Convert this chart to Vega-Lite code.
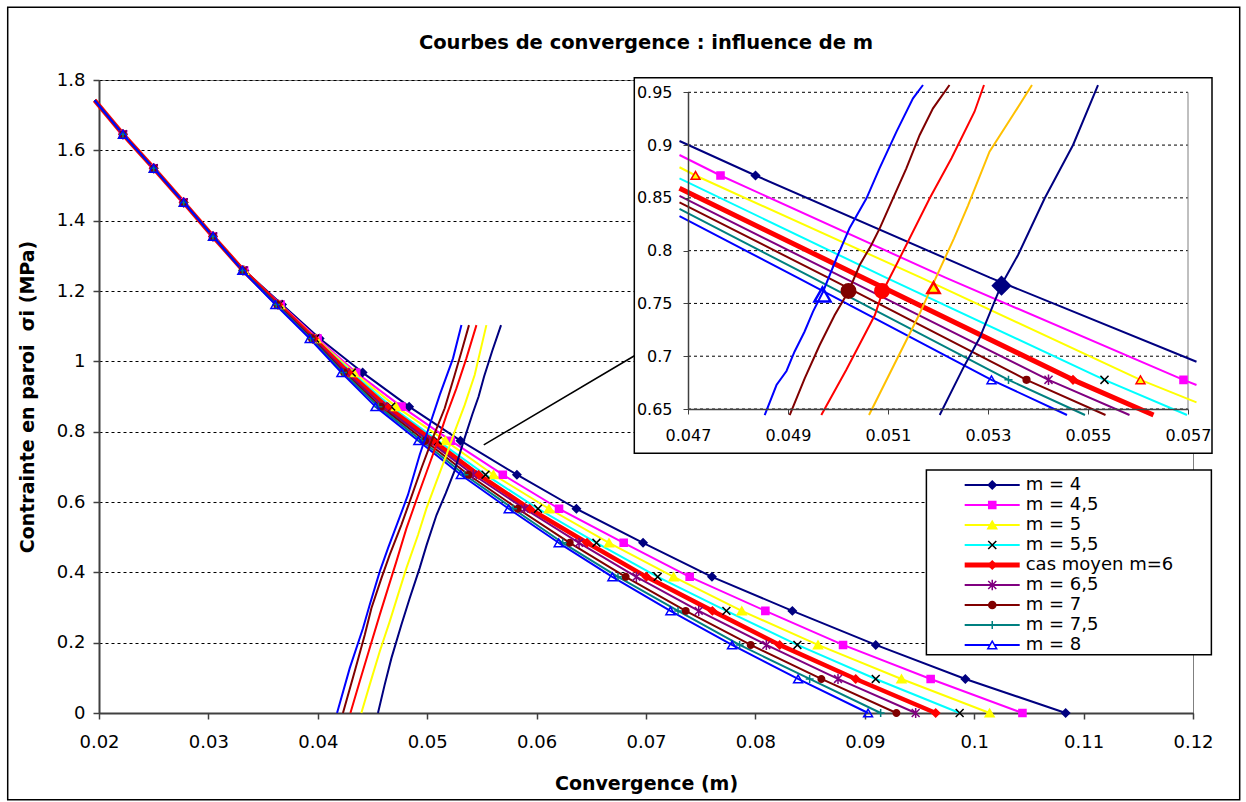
{
  "$schema": "https://vega.github.io/schema/vega-lite/v6.json",
  "width": 1094,
  "height": 633,
  "autosize": {"type": "none"},
  "padding": {"left": 99, "top": 80, "right": 53, "bottom": 89},
  "background": "white",
  "config": {"view": {"stroke": "#808080", "strokeWidth": 1}, "font": "DejaVu Sans"},
  "title": {"text": "Courbes de convergence : influence de m", "font": "DejaVu Sans", "fontSize": 19.5, "fontWeight": "bold", "color": "#000000", "anchor": "middle", "offset": -62, "baseline": "alphabetic"},
  "datasets": {
    "conv": [
      {"s":"m = 4","x":0.10836,"y":0},{"s":"m = 4","x":0.09919,"y":0.0968},{"s":"m = 4","x":0.0910,"y":0.1936},{"s":"m = 4","x":0.08338,"y":0.2904},{"s":"m = 4","x":0.07603,"y":0.3872},{"s":"m = 4","x":0.06973,"y":0.484},{"s":"m = 4","x":0.06364,"y":0.5808},{"s":"m = 4","x":0.0582,"y":0.6776},{"s":"m = 4","x":0.05304,"y":0.7744},{"s":"m = 4","x":0.04835,"y":0.8712},{"s":"m = 4","x":0.0441,"y":0.968},{"s":"m = 4","x":0.04017,"y":1.0648},{"s":"m = 4","x":0.03673,"y":1.1616},{"s":"m = 4","x":0.0333,"y":1.2584},{"s":"m = 4","x":0.03042,"y":1.3552},{"s":"m = 4","x":0.02774,"y":1.452},{"s":"m = 4","x":0.025,"y":1.5488},{"s":"m = 4","x":0.02219,"y":1.6456},{"s":"m = 4","x":0.0196,"y":1.7424},
      {"s":"m = 4,5","x":0.10441,"y":0},{"s":"m = 4,5","x":0.09602,"y":0.0968},{"s":"m = 4,5","x":0.08801,"y":0.1936},{"s":"m = 4,5","x":0.08091,"y":0.2904},{"s":"m = 4,5","x":0.07399,"y":0.3872},{"s":"m = 4,5","x":0.06796,"y":0.484},{"s":"m = 4,5","x":0.06205,"y":0.5808},{"s":"m = 4,5","x":0.05691,"y":0.6776},{"s":"m = 4,5","x":0.05215,"y":0.7744},{"s":"m = 4,5","x":0.04765,"y":0.8712},{"s":"m = 4,5","x":0.0435,"y":0.968},{"s":"m = 4,5","x":0.03998,"y":1.0648},{"s":"m = 4,5","x":0.0366,"y":1.1616},{"s":"m = 4,5","x":0.03327,"y":1.2584},{"s":"m = 4,5","x":0.03042,"y":1.3552},{"s":"m = 4,5","x":0.02774,"y":1.452},{"s":"m = 4,5","x":0.025,"y":1.5488},{"s":"m = 4,5","x":0.02219,"y":1.6456},{"s":"m = 4,5","x":0.0196,"y":1.7424},
      {"s":"m = 5","x":0.10141,"y":0},{"s":"m = 5","x":0.09335,"y":0.0968},{"s":"m = 5","x":0.08572,"y":0.1936},{"s":"m = 5","x":0.07875,"y":0.2904},{"s":"m = 5","x":0.07253,"y":0.3872},{"s":"m = 5","x":0.06662,"y":0.484},{"s":"m = 5","x":0.06113,"y":0.5808},{"s":"m = 5","x":0.05605,"y":0.6776},{"s":"m = 5","x":0.05166,"y":0.7744},{"s":"m = 5","x":0.04715,"y":0.8712},{"s":"m = 5","x":0.0433,"y":0.968},{"s":"m = 5","x":0.03985,"y":1.0648},{"s":"m = 5","x":0.03653,"y":1.1616},{"s":"m = 5","x":0.03324,"y":1.2584},{"s":"m = 5","x":0.03042,"y":1.3552},{"s":"m = 5","x":0.02774,"y":1.452},{"s":"m = 5","x":0.025,"y":1.5488},{"s":"m = 5","x":0.02219,"y":1.6456},{"s":"m = 5","x":0.0196,"y":1.7424},
      {"s":"m = 5,5","x":0.09867,"y":0},{"s":"m = 5,5","x":0.0910,"y":0.0968},{"s":"m = 5,5","x":0.08384,"y":0.1936},{"s":"m = 5,5","x":0.07735,"y":0.2904},{"s":"m = 5,5","x":0.07107,"y":0.3872},{"s":"m = 5,5","x":0.06547,"y":0.484},{"s":"m = 5,5","x":0.06013,"y":0.5808},{"s":"m = 5,5","x":0.05533,"y":0.6776},{"s":"m = 5,5","x":0.05096,"y":0.7744},{"s":"m = 5,5","x":0.04671,"y":0.8712},{"s":"m = 5,5","x":0.0431,"y":0.968},{"s":"m = 5,5","x":0.03975,"y":1.0648},{"s":"m = 5,5","x":0.03647,"y":1.1616},{"s":"m = 5,5","x":0.03321,"y":1.2584},{"s":"m = 5,5","x":0.03042,"y":1.3552},{"s":"m = 5,5","x":0.02774,"y":1.452},{"s":"m = 5,5","x":0.025,"y":1.5488},{"s":"m = 5,5","x":0.02219,"y":1.6456},{"s":"m = 5,5","x":0.0196,"y":1.7424},
      {"s":"cas moyen m=6","x":0.09648,"y":0},{"s":"cas moyen m=6","x":0.08917,"y":0.0968},{"s":"cas moyen m=6","x":0.08222,"y":0.1936},{"s":"cas moyen m=6","x":0.07607,"y":0.2904},{"s":"cas moyen m=6","x":0.07004,"y":0.3872},{"s":"cas moyen m=6","x":0.06461,"y":0.484},{"s":"cas moyen m=6","x":0.05937,"y":0.5808},{"s":"cas moyen m=6","x":0.0547,"y":0.6776},{"s":"cas moyen m=6","x":0.0505,"y":0.7744},{"s":"cas moyen m=6","x":0.04631,"y":0.8712},{"s":"cas moyen m=6","x":0.0428,"y":0.968},{"s":"cas moyen m=6","x":0.03965,"y":1.0648},{"s":"cas moyen m=6","x":0.0364,"y":1.1616},{"s":"cas moyen m=6","x":0.03318,"y":1.2584},{"s":"cas moyen m=6","x":0.03042,"y":1.3552},{"s":"cas moyen m=6","x":0.02774,"y":1.452},{"s":"cas moyen m=6","x":0.025,"y":1.5488},{"s":"cas moyen m=6","x":0.02219,"y":1.6456},{"s":"cas moyen m=6","x":0.0196,"y":1.7424},
      {"s":"m = 6,5","x":0.09465,"y":0},{"s":"m = 6,5","x":0.08755,"y":0.0968},{"s":"m = 6,5","x":0.081,"y":0.1936},{"s":"m = 6,5","x":0.07482,"y":0.2904},{"s":"m = 6,5","x":0.06912,"y":0.3872},{"s":"m = 6,5","x":0.06388,"y":0.484},{"s":"m = 6,5","x":0.0589,"y":0.5808},{"s":"m = 6,5","x":0.05421,"y":0.6776},{"s":"m = 6,5","x":0.05011,"y":0.7744},{"s":"m = 6,5","x":0.04601,"y":0.8712},{"s":"m = 6,5","x":0.0426,"y":0.968},{"s":"m = 6,5","x":0.03955,"y":1.0648},{"s":"m = 6,5","x":0.03634,"y":1.1616},{"s":"m = 6,5","x":0.03315,"y":1.2584},{"s":"m = 6,5","x":0.03042,"y":1.3552},{"s":"m = 6,5","x":0.02774,"y":1.452},{"s":"m = 6,5","x":0.025,"y":1.5488},{"s":"m = 6,5","x":0.02219,"y":1.6456},{"s":"m = 6,5","x":0.0196,"y":1.7424},
      {"s":"m = 7","x":0.09289,"y":0},{"s":"m = 7","x":0.08603,"y":0.0968},{"s":"m = 7","x":0.07957,"y":0.1936},{"s":"m = 7","x":0.07363,"y":0.2904},{"s":"m = 7","x":0.06814,"y":0.3872},{"s":"m = 7","x":0.06303,"y":0.484},{"s":"m = 7","x":0.05828,"y":0.5808},{"s":"m = 7","x":0.05377,"y":0.6776},{"s":"m = 7","x":0.0498,"y":0.7744},{"s":"m = 7","x":0.04577,"y":0.8712},{"s":"m = 7","x":0.0424,"y":0.968},{"s":"m = 7","x":0.03945,"y":1.0648},{"s":"m = 7","x":0.03627,"y":1.1616},{"s":"m = 7","x":0.03313,"y":1.2584},{"s":"m = 7","x":0.03042,"y":1.3552},{"s":"m = 7","x":0.02774,"y":1.452},{"s":"m = 7","x":0.025,"y":1.5488},{"s":"m = 7","x":0.02219,"y":1.6456},{"s":"m = 7","x":0.0196,"y":1.7424},
      {"s":"m = 7,5","x":0.09145,"y":0},{"s":"m = 7,5","x":0.08496,"y":0.0968},{"s":"m = 7,5","x":0.07856,"y":0.1936},{"s":"m = 7,5","x":0.07293,"y":0.2904},{"s":"m = 7,5","x":0.06744,"y":0.3872},{"s":"m = 7,5","x":0.06239,"y":0.484},{"s":"m = 7,5","x":0.05785,"y":0.5808},{"s":"m = 7,5","x":0.05341,"y":0.6776},{"s":"m = 7,5","x":0.04949,"y":0.7744},{"s":"m = 7,5","x":0.04554,"y":0.8712},{"s":"m = 7,5","x":0.0423,"y":0.968},{"s":"m = 7,5","x":0.03935,"y":1.0648},{"s":"m = 7,5","x":0.0362,"y":1.1616},{"s":"m = 7,5","x":0.03311,"y":1.2584},{"s":"m = 7,5","x":0.03042,"y":1.3552},{"s":"m = 7,5","x":0.02774,"y":1.452},{"s":"m = 7,5","x":0.025,"y":1.5488},{"s":"m = 7,5","x":0.02219,"y":1.6456},{"s":"m = 7,5","x":0.0196,"y":1.7424},
      {"s":"m = 8","x":0.0903,"y":0},{"s":"m = 8","x":0.0839,"y":0.0968},{"s":"m = 8","x":0.07786,"y":0.1936},{"s":"m = 8","x":0.07223,"y":0.2904},{"s":"m = 8","x":0.06693,"y":0.3872},{"s":"m = 8","x":0.06202,"y":0.484},{"s":"m = 8","x":0.05745,"y":0.5808},{"s":"m = 8","x":0.05307,"y":0.6776},{"s":"m = 8","x":0.04919,"y":0.7744},{"s":"m = 8","x":0.04527,"y":0.8712},{"s":"m = 8","x":0.04216,"y":0.968},{"s":"m = 8","x":0.03926,"y":1.0648},{"s":"m = 8","x":0.03612,"y":1.1616},{"s":"m = 8","x":0.0331,"y":1.2584},{"s":"m = 8","x":0.03042,"y":1.3552},{"s":"m = 8","x":0.02774,"y":1.452},{"s":"m = 8","x":0.025,"y":1.5488},{"s":"m = 8","x":0.02219,"y":1.6456},{"s":"m = 8","x":0.0196,"y":1.7424}
    ],
    "conf": [
      {"s":"m = 8","x":0.04176,"y":0},{"s":"m = 8","x":0.04292,"y":0.1276},{"s":"m = 8","x":0.04413,"y":0.241},{"s":"m = 8","x":0.04474,"y":0.307},{"s":"m = 8","x":0.04566,"y":0.402},{"s":"m = 8","x":0.04642,"y":0.4686},{"s":"m = 8","x":0.04733,"y":0.544},{"s":"m = 8","x":0.04824,"y":0.62},{"s":"m = 8","x":0.04931,"y":0.7337},{"s":"m = 8","x":0.05023,"y":0.819},{"s":"m = 8","x":0.05114,"y":0.904},{"s":"m = 8","x":0.05236,"y":1.0085},{"s":"m = 8","x":0.05313,"y":1.103},
      {"s":"m = 7","x":0.0423,"y":0},{"s":"m = 7","x":0.04337,"y":0.118},{"s":"m = 7","x":0.04429,"y":0.222},{"s":"m = 7","x":0.0449,"y":0.298},{"s":"m = 7","x":0.04581,"y":0.383},{"s":"m = 7","x":0.04657,"y":0.4496},{"s":"m = 7","x":0.04764,"y":0.535},{"s":"m = 7","x":0.0484,"y":0.601},{"s":"m = 7","x":0.04947,"y":0.696},{"s":"m = 7","x":0.05038,"y":0.7715},{"s":"m = 7","x":0.0516,"y":0.8665},{"s":"m = 7","x":0.05251,"y":0.961},{"s":"m = 7","x":0.05313,"y":1.027},{"s":"m = 7","x":0.05382,"y":1.103},
      {"s":"cas moyen m=6","x":0.04298,"y":0},{"s":"cas moyen m=6","x":0.04383,"y":0.0896},{"s":"cas moyen m=6","x":0.04474,"y":0.184},{"s":"cas moyen m=6","x":0.04566,"y":0.279},{"s":"cas moyen m=6","x":0.04642,"y":0.355},{"s":"cas moyen m=6","x":0.04718,"y":0.4305},{"s":"cas moyen m=6","x":0.0481,"y":0.525},{"s":"cas moyen m=6","x":0.04896,"y":0.601},{"s":"cas moyen m=6","x":0.04995,"y":0.686},{"s":"cas moyen m=6","x":0.05095,"y":0.7715},{"s":"cas moyen m=6","x":0.05176,"y":0.847},{"s":"cas moyen m=6","x":0.05267,"y":0.923},{"s":"cas moyen m=6","x":0.05358,"y":1.0085},{"s":"cas moyen m=6","x":0.0545,"y":1.103},
      {"s":"m = 5","x":0.04398,"y":0},{"s":"m = 5","x":0.04474,"y":0.08},{"s":"m = 5","x":0.04566,"y":0.175},{"s":"m = 5","x":0.04657,"y":0.26},{"s":"m = 5","x":0.04733,"y":0.336},{"s":"m = 5","x":0.0481,"y":0.412},{"s":"m = 5","x":0.04916,"y":0.506},{"s":"m = 5","x":0.04993,"y":0.582},{"s":"m = 5","x":0.05084,"y":0.658},{"s":"m = 5","x":0.05176,"y":0.734},{"s":"m = 5","x":0.05251,"y":0.8},{"s":"m = 5","x":0.05343,"y":0.876},{"s":"m = 5","x":0.05434,"y":0.961},{"s":"m = 5","x":0.05541,"y":1.103},
      {"s":"m = 4","x":0.0455,"y":0},{"s":"m = 4","x":0.04611,"y":0.08},{"s":"m = 4","x":0.04673,"y":0.156},{"s":"m = 4","x":0.04764,"y":0.251},{"s":"m = 4","x":0.0484,"y":0.3265},{"s":"m = 4","x":0.04931,"y":0.412},{"s":"m = 4","x":0.04995,"y":0.478},{"s":"m = 4","x":0.05085,"y":0.563},{"s":"m = 4","x":0.0517,"y":0.625},{"s":"m = 4","x":0.0525,"y":0.6885},{"s":"m = 4","x":0.05327,"y":0.7675},{"s":"m = 4","x":0.05413,"y":0.8496},{"s":"m = 4","x":0.0547,"y":0.9001},{"s":"m = 4","x":0.0552,"y":0.9569},{"s":"m = 4","x":0.05595,"y":1.03},{"s":"m = 4","x":0.05675,"y":1.103}
    ],
    "iconv": [
      {"s":"m = 4","x":0.04683,"y":0.9039},{"s":"m = 4","x":0.04835,"y":0.8712},{"s":"m = 4","x":0.05304,"y":0.7744},{"s":"m = 4","x":0.05717,"y":0.6948},
      {"s":"m = 4,5","x":0.04683,"y":0.8906},{"s":"m = 4,5","x":0.04765,"y":0.8712},{"s":"m = 4,5","x":0.05215,"y":0.7744},{"s":"m = 4,5","x":0.05691,"y":0.6776},{"s":"m = 4,5","x":0.05717,"y":0.6727},
      {"s":"m = 5","x":0.04683,"y":0.879},{"s":"m = 5","x":0.04715,"y":0.8712},{"s":"m = 5","x":0.05166,"y":0.7744},{"s":"m = 5","x":0.05605,"y":0.6776},{"s":"m = 5","x":0.05717,"y":0.6563},
      {"s":"m = 5,5","x":0.04683,"y":0.8685},{"s":"m = 5,5","x":0.05096,"y":0.7744},{"s":"m = 5,5","x":0.05533,"y":0.6776},{"s":"m = 5,5","x":0.05698,"y":0.6443},
      {"s":"cas moyen m=6","x":0.04683,"y":0.8591},{"s":"cas moyen m=6","x":0.0505,"y":0.7744},{"s":"cas moyen m=6","x":0.0547,"y":0.6776},{"s":"cas moyen m=6","x":0.05631,"y":0.6443},
      {"s":"m = 6,5","x":0.04683,"y":0.8518},{"s":"m = 6,5","x":0.05011,"y":0.7744},{"s":"m = 6,5","x":0.05421,"y":0.6776},{"s":"m = 6,5","x":0.05583,"y":0.6443},
      {"s":"m = 7","x":0.04683,"y":0.8458},{"s":"m = 7","x":0.0498,"y":0.7744},{"s":"m = 7","x":0.05377,"y":0.6776},{"s":"m = 7","x":0.05535,"y":0.6443},
      {"s":"m = 7,5","x":0.04683,"y":0.8395},{"s":"m = 7,5","x":0.04949,"y":0.7744},{"s":"m = 7,5","x":0.05341,"y":0.6776},{"s":"m = 7,5","x":0.05494,"y":0.6443},
      {"s":"m = 8","x":0.04683,"y":0.8328},{"s":"m = 8","x":0.04919,"y":0.7744},{"s":"m = 8","x":0.05307,"y":0.6776},{"s":"m = 8","x":0.05458,"y":0.6443}
    ],
    "iconf": [
      {"s":"m = 8","x":0.048534,"y":0.6443},{"s":"m = 8","x":0.04877,"y":0.6727},{"s":"m = 8","x":0.04897,"y":0.686},{"s":"m = 8","x":0.04913,"y":0.7043},{"s":"m = 8","x":0.04933,"y":0.7232},{"s":"m = 8","x":0.0495,"y":0.7422},{"s":"m = 8","x":0.0497,"y":0.7611},{"s":"m = 8","x":0.04997,"y":0.7928},{"s":"m = 8","x":0.05023,"y":0.8212},{"s":"m = 8","x":0.05057,"y":0.8496},{"s":"m = 8","x":0.05083,"y":0.878},{"s":"m = 8","x":0.05117,"y":0.9127},{"s":"m = 8","x":0.0515,"y":0.9443},{"s":"m = 8","x":0.0517,"y":0.9569},
      {"s":"m = 7","x":0.049034,"y":0.6443},{"s":"m = 7","x":0.049334,"y":0.679},{"s":"m = 7","x":0.049634,"y":0.7106},{"s":"m = 7","x":0.049934,"y":0.739},{"s":"m = 7","x":0.050214,"y":0.7618},{"s":"m = 7","x":0.050434,"y":0.7864},{"s":"m = 7","x":0.050667,"y":0.8054},{"s":"m = 7","x":0.050834,"y":0.8211},{"s":"m = 7","x":0.0511,"y":0.8496},{"s":"m = 7","x":0.051367,"y":0.878},{"s":"m = 7","x":0.051634,"y":0.9096},{"s":"m = 7","x":0.0519,"y":0.9348},{"s":"m = 7","x":0.05223,"y":0.9569},
      {"s":"cas moyen m=6","x":0.049666,"y":0.6443},{"s":"cas moyen m=6","x":0.050164,"y":0.6869},{"s":"cas moyen m=6","x":0.050738,"y":0.739},{"s":"cas moyen m=6","x":0.050892,"y":0.7611},{"s":"cas moyen m=6","x":0.051198,"y":0.7895},{"s":"cas moyen m=6","x":0.051734,"y":0.8401},{"s":"cas moyen m=6","x":0.051834,"y":0.8496},{"s":"cas moyen m=6","x":0.05227,"y":0.8875},{"s":"cas moyen m=6","x":0.05273,"y":0.9316},{"s":"cas moyen m=6","x":0.05292,"y":0.9569},
      {"s":"m = 5","x":0.05062,"y":0.6443},{"s":"m = 5","x":0.05112,"y":0.6917},{"s":"m = 5","x":0.05162,"y":0.739},{"s":"m = 5","x":0.05186,"y":0.7643},{"s":"m = 5","x":0.05232,"y":0.8117},{"s":"m = 5","x":0.0526,"y":0.8427},{"s":"m = 5","x":0.05303,"y":0.8938},{"s":"m = 5","x":0.0535,"y":0.9285},{"s":"m = 5","x":0.05388,"y":0.9569},
      {"s":"m = 4","x":0.052034,"y":0.6443},{"s":"m = 4","x":0.0525,"y":0.6885},{"s":"m = 4","x":0.052834,"y":0.7174},{"s":"m = 4","x":0.053267,"y":0.7675},{"s":"m = 4","x":0.053601,"y":0.7959},{"s":"m = 4","x":0.054134,"y":0.8496},{"s":"m = 4","x":0.054701,"y":0.9001},{"s":"m = 4","x":0.0552,"y":0.9569}
    ],
    "inter": [
      {"s":"m = 8","x":0.04969,"y":0.7585},
      {"s":"m = 7","x":0.05021,"y":0.7618},
      {"s":"cas moyen m=6","x":0.05088,"y":0.7618},
      {"s":"m = 5","x":0.05191,"y":0.765},
      {"s":"m = 4","x":0.05327,"y":0.7668}
    ],
    "igrid": [{"g":0.65},{"g":0.7},{"g":0.75},{"g":0.8},{"g":0.85},{"g":0.9},{"g":0.95}]
  },
  "layer": [
    {
      "data": {"values": [{}]},
      "mark": {"type": "rect", "fill": "transparent", "stroke": "#000000", "strokeWidth": 1.5},
      "encoding": {
        "x": {"datum": 0.011655, "type": "quantitative", "scale": {"domain": [0.02, 0.12], "nice": false, "zero": false}, "axis": null},
        "x2": {"datum": 0.124269},
        "y": {"datum": 2.0068, "type": "quantitative", "scale": {"domain": [0, 1.8], "nice": false, "zero": false}, "axis": null},
        "y2": {"datum": -0.2467}
      }
    },
    {
      "data": {"name": "conv"},
      "mark": {"type": "line", "strokeJoin": "round"},
      "encoding": {
        "x": {"field": "x", "type": "quantitative", "scale": {"domain": [0.02, 0.12], "nice": false, "zero": false},
          "axis": {"orient": "bottom", "values": [0.02,0.03,0.04,0.05,0.06,0.07,0.08,0.09,0.1,0.11,0.12], "format": "~g", "title": "Convergence (m)", "titleFont": "DejaVu Sans", "titleFontSize": 19, "titleFontWeight": "bold", "titleColor": "#000000", "titleY": 76, "titleBaseline": "alphabetic", "labelFont": "DejaVu Sans", "labelFontSize": 18, "labelColor": "#000000", "labelPadding": 14, "labelFlush": false, "labelOverlap": false, "tickSize": 6, "tickColor": "#404040", "tickWidth": 1.5, "domainColor": "#404040", "domainWidth": 2, "grid": false}},
        "y": {"field": "y", "type": "quantitative", "scale": {"domain": [0, 1.8], "nice": false, "zero": false},
          "axis": {"orient": "left", "values": [0,0.2,0.4,0.6,0.8,1,1.2,1.4,1.6,1.8], "format": "~g", "title": "Contrainte en paroi \u00a0σi (MPa)", "titleFont": "DejaVu Sans", "titleFontSize": 19, "titleFontWeight": "bold", "titleColor": "#000000", "titleX": -72, "titleY": 316.5, "titleAngle": 270, "titleAlign": "center", "titleBaseline": "middle", "labelFont": "DejaVu Sans", "labelFontSize": 18, "labelColor": "#000000", "labelPadding": 8, "labelFlush": false, "labelOverlap": false, "tickSize": 6, "tickColor": "#404040", "tickWidth": 1.5, "domainColor": "#404040", "domainWidth": 2, "grid": true, "gridDash": [3, 3], "gridColor": "#000000", "gridWidth": 1}},
        "order": {"field": "y", "type": "quantitative"},
        "color": {"field": "s", "type": "nominal", "scale": {"domain": ["m = 4","m = 4,5","m = 5","m = 5,5","cas moyen m=6","m = 6,5","m = 7","m = 7,5","m = 8"], "range": ["#000080","#FF00FF","#FFFF00","#00FFFF","#FF0000","#800080","#800000","#008080","#0000FF"]}, "legend": null},
        "strokeWidth": {"condition": {"test": "datum.s === 'cas moyen m=6'", "value": 4.5}, "value": 2}
      }
    },
    {
      "data": {"name": "conv"},
      "transform": [{"filter": "datum.y < 1.7"}],
      "mark": {"type": "point", "filled": true, "opacity": 1, "strokeWidth": 1.5},
      "encoding": {
        "x": {"field": "x", "type": "quantitative", "scale": {"domain": [0.02, 0.12], "nice": false, "zero": false}, "axis": null},
        "y": {"field": "y", "type": "quantitative", "scale": {"domain": [0, 1.8], "nice": false, "zero": false}, "axis": null},
        "shape": {"field": "s", "type": "nominal", "scale": {"domain": ["m = 4","m = 4,5","m = 5","m = 5,5","cas moyen m=6","m = 6,5","m = 7","m = 7,5","m = 8"], "range": ["diamond","square","triangle-up","M-1,-1L1,1M-1,1L1,-1","diamond","M-1,-1L1,1M-1,1L1,-1M0,-1.3L0,1.3","circle","M-1,0L1,0M0,-1L0,1","triangle-up"]}, "legend": null},
        "fill": {"field": "s", "type": "nominal", "scale": {"domain": ["m = 4","m = 4,5","m = 5","m = 5,5","cas moyen m=6","m = 6,5","m = 7","m = 7,5","m = 8"], "range": ["#000080","#FF00FF","#FFFF00","transparent","#FF0000","transparent","#800000","transparent","transparent"]}, "legend": null},
        "stroke": {"field": "s", "type": "nominal", "scale": {"domain": ["m = 4","m = 4,5","m = 5","m = 5,5","cas moyen m=6","m = 6,5","m = 7","m = 7,5","m = 8"], "range": ["#000080","#FF00FF","#FFFF00","#000000","#FF0000","#800080","#800000","#008080","#0000FF"]}, "legend": null},
        "size": {"condition": [{"test": "datum.s === 'm = 7'", "value": 42}, {"test": "datum.s === 'm = 4,5'", "value": 50}, {"test": "datum.s === 'm = 8' || datum.s === 'm = 5'", "value": 80}], "value": 62}
      }
    },
    {
      "data": {"name": "conf"},
      "mark": {"type": "line", "strokeWidth": 2},
      "encoding": {
        "x": {"field": "x", "type": "quantitative", "scale": {"domain": [0.02, 0.12], "nice": false, "zero": false}, "axis": null},
        "y": {"field": "y", "type": "quantitative", "scale": {"domain": [0, 1.8], "nice": false, "zero": false}, "axis": null},
        "order": {"field": "y", "type": "quantitative"},
        "color": {"field": "s", "type": "nominal", "scale": {"domain": ["m = 4","m = 5","cas moyen m=6","m = 7","m = 8"], "range": ["#000080","#FFFF00","#FF0000","#800000","#0000FF"]}, "legend": null}
      }
    },
    {
      "data": {"values": [{}]},
      "mark": {"type": "rule", "color": "#000000", "strokeWidth": 1.5},
      "encoding": {
        "x": {"datum": 0.05517, "type": "quantitative", "scale": {"domain": [0.02, 0.12], "nice": false, "zero": false}, "axis": null},
        "x2": {"datum": 0.06906},
        "y": {"datum": 0.7622, "type": "quantitative", "scale": {"domain": [0, 1.8], "nice": false, "zero": false}, "axis": null},
        "y2": {"datum": 1.018}
      }
    },
    {
      "data": {"values": [{}]},
      "mark": {"type": "rect", "fill": "#FFFFFF", "stroke": "#000000", "strokeWidth": 1.5},
      "encoding": {
        "x": {"datum": 0.09563, "type": "quantitative", "scale": {"domain": [0.02, 0.12], "nice": false, "zero": false}, "axis": null},
        "x2": {"datum": 0.12168},
        "y": {"datum": 0.1654, "type": "quantitative", "scale": {"domain": [0, 1.8], "nice": false, "zero": false}, "axis": null},
        "y2": {"datum": 0.6911}
      }
    },
    {
      "data": {"values": [{}]},
      "mark": {"type": "rect", "fill": "#FFFFFF", "stroke": "#000000", "strokeWidth": 1.5},
      "encoding": {
        "x": {"datum": 0.045926, "type": "quantitative", "scale": {"domain": [0.047, 0.057], "range": [589, 1089], "nice": false, "zero": false}, "axis": null},
        "x2": {"datum": 0.05748},
        "y": {"datum": 0.608, "type": "quantitative", "scale": {"domain": [0.65, 0.95], "range": [329, 12.3], "nice": false, "zero": false}, "axis": null},
        "y2": {"datum": 0.9638}
      }
    },
    {
      "data": {"name": "igrid"},
      "mark": {"type": "rule", "color": "#000000", "strokeWidth": 1, "strokeDash": [3, 3]},
      "encoding": {
        "x": {"datum": 0.047, "type": "quantitative", "scale": {"domain": [0.047, 0.057], "range": [589, 1089], "nice": false, "zero": false}, "axis": null},
        "x2": {"datum": 0.057},
        "y": {"field": "g", "type": "quantitative", "scale": {"domain": [0.65, 0.95], "range": [329, 12.3], "nice": false, "zero": false}, "axis": null}
      }
    },
    {
      "data": {"values": [{}]},
      "mark": {"type": "rule", "color": "#808080", "strokeWidth": 1},
      "encoding": {
        "x": {"datum": 0.057, "type": "quantitative", "scale": {"domain": [0.047, 0.057], "range": [589, 1089], "nice": false, "zero": false}, "axis": null},
        "y": {"datum": 0.65, "type": "quantitative", "scale": {"domain": [0.65, 0.95], "range": [329, 12.3], "nice": false, "zero": false}, "axis": null},
        "y2": {"datum": 0.95}
      }
    },
    {
      "data": {"name": "iconv"},
      "mark": {"type": "line", "strokeJoin": "round"},
      "encoding": {
        "x": {"field": "x", "type": "quantitative", "scale": {"domain": [0.047, 0.057], "range": [589, 1089], "nice": false, "zero": false},
          "axis": {"orient": "bottom", "offset": -304, "values": [0.047,0.049,0.051,0.053,0.055,0.057], "format": "~g", "title": null, "grid": false, "labelFont": "DejaVu Sans", "labelFontSize": 16, "labelColor": "#000000", "labelPadding": 13, "labelFlush": false, "labelOverlap": false, "tickSize": 5, "tickColor": "#404040", "domainColor": "#404040", "domainWidth": 1.5, "zindex": 1}},
        "y": {"field": "y", "type": "quantitative", "scale": {"domain": [0.65, 0.95], "range": [329, 12.3], "nice": false, "zero": false},
          "axis": {"orient": "left", "offset": -589, "values": [0.65,0.7,0.75,0.8,0.85,0.9,0.95], "format": "~g", "title": null, "grid": false, "labelFont": "DejaVu Sans", "labelFontSize": 16, "labelColor": "#000000", "labelPadding": 11, "labelFlush": false, "labelOverlap": false, "tickSize": 5, "tickColor": "#404040", "domainColor": "#404040", "domainWidth": 1.5, "zindex": 1}},
        "order": {"field": "y", "type": "quantitative"},
        "color": {"field": "s", "type": "nominal", "scale": {"domain": ["m = 4","m = 4,5","m = 5","m = 5,5","cas moyen m=6","m = 6,5","m = 7","m = 7,5","m = 8"], "range": ["#000080","#FF00FF","#FFFF00","#00FFFF","#FF0000","#800080","#800000","#008080","#0000FF"]}, "legend": null},
        "strokeWidth": {"condition": {"test": "datum.s === 'cas moyen m=6'", "value": 5}, "value": 2}
      }
    },
    {
      "data": {"name": "iconv"},
      "transform": [{"filter": "(datum.y === 0.8712 || datum.y === 0.6776) && datum.x >= 0.047 && datum.x <= 0.057"}],
      "mark": {"type": "point", "filled": true, "opacity": 1, "strokeWidth": 1.5},
      "encoding": {
        "x": {"field": "x", "type": "quantitative", "scale": {"domain": [0.047, 0.057], "range": [589, 1089], "nice": false, "zero": false}, "axis": null},
        "y": {"field": "y", "type": "quantitative", "scale": {"domain": [0.65, 0.95], "range": [329, 12.3], "nice": false, "zero": false}, "axis": null},
        "shape": {"field": "s", "type": "nominal", "scale": {"domain": ["m = 4","m = 4,5","m = 5","m = 5,5","cas moyen m=6","m = 6,5","m = 7","m = 7,5","m = 8"], "range": ["diamond","square","triangle-up","M-1,-1L1,1M-1,1L1,-1","diamond","M-1,-1L1,1M-1,1L1,-1M0,-1.3L0,1.3","circle","M-1,0L1,0M0,-1L0,1","triangle-up"]}, "legend": null},
        "fill": {"field": "s", "type": "nominal", "scale": {"domain": ["m = 4","m = 4,5","m = 5","m = 5,5","cas moyen m=6","m = 6,5","m = 7","m = 7,5","m = 8"], "range": ["#000080","#FF00FF","#FFFF00","transparent","#FF0000","transparent","#800000","transparent","transparent"]}, "legend": null},
        "stroke": {"field": "s", "type": "nominal", "scale": {"domain": ["m = 4","m = 4,5","m = 5","m = 5,5","cas moyen m=6","m = 6,5","m = 7","m = 7,5","m = 8"], "range": ["#000080","#FF00FF","#FF0000","#000000","#FF0000","#800080","#800000","#008080","#0000FF"]}, "legend": null},
        "size": {"condition": [{"test": "datum.s === 'm = 7'", "value": 45}, {"test": "datum.s === 'm = 4,5'", "value": 50}, {"test": "datum.s === 'm = 8' || datum.s === 'm = 5'", "value": 80}], "value": 65}
      }
    },
    {
      "data": {"name": "iconf"},
      "mark": {"type": "line", "strokeWidth": 2},
      "encoding": {
        "x": {"field": "x", "type": "quantitative", "scale": {"domain": [0.047, 0.057], "range": [589, 1089], "nice": false, "zero": false}, "axis": null},
        "y": {"field": "y", "type": "quantitative", "scale": {"domain": [0.65, 0.95], "range": [329, 12.3], "nice": false, "zero": false}, "axis": null},
        "order": {"field": "y", "type": "quantitative"},
        "color": {"field": "s", "type": "nominal", "scale": {"domain": ["m = 4","m = 5","cas moyen m=6","m = 7","m = 8"], "range": ["#000080","#FFC000","#FF0000","#800000","#0000FF"]}, "legend": null}
      }
    },
    {
      "data": {"name": "inter"},
      "mark": {"type": "point", "filled": true, "opacity": 1, "strokeWidth": 2.5},
      "encoding": {
        "x": {"field": "x", "type": "quantitative", "scale": {"domain": [0.047, 0.057], "range": [589, 1089], "nice": false, "zero": false}, "axis": null},
        "y": {"field": "y", "type": "quantitative", "scale": {"domain": [0.65, 0.95], "range": [329, 12.3], "nice": false, "zero": false}, "axis": null},
        "shape": {"field": "s", "type": "nominal", "scale": {"domain": ["m = 4","m = 5","cas moyen m=6","m = 7","m = 8"], "range": ["diamond","triangle-up","circle","circle","triangle-up"]}, "legend": null},
        "fill": {"field": "s", "type": "nominal", "scale": {"domain": ["m = 4","m = 5","cas moyen m=6","m = 7","m = 8"], "range": ["#000080","#FFFF00","#FF0000","#800000","transparent"]}, "legend": null},
        "stroke": {"field": "s", "type": "nominal", "scale": {"domain": ["m = 4","m = 5","cas moyen m=6","m = 7","m = 8"], "range": ["#000080","#FF0000","#FF0000","#800000","#0000FF"]}, "legend": null},
        "size": {"condition": [{"test": "datum.s === 'm = 8'", "value": 260}, {"test": "datum.s === 'm = 4'", "value": 280}, {"test": "datum.s === 'm = 5'", "value": 150}], "value": 180}
      }
    },
    {
      "data": {"name": "conv"},
      "transform": [{"aggregate": [], "groupby": ["s"]}],
      "mark": {"type": "rule"},
      "encoding": {
        "x": {"datum": 0.09913, "type": "quantitative", "scale": {"domain": [0.02, 0.12], "nice": false, "zero": false}, "axis": null},
        "x2": {"datum": 0.10416},
        "y": {"field": "s", "type": "nominal", "scale": {"type": "point", "domain": ["m = 4","m = 4,5","m = 5","m = 5,5","cas moyen m=6","m = 6,5","m = 7","m = 7,5","m = 8"], "range": [405, 565], "padding": 0}, "axis": null},
        "color": {"field": "s", "type": "nominal", "scale": {"domain": ["m = 4","m = 4,5","m = 5","m = 5,5","cas moyen m=6","m = 6,5","m = 7","m = 7,5","m = 8"], "range": ["#000080","#FF00FF","#FFFF00","#00FFFF","#FF0000","#800080","#800000","#008080","#0000FF"]}, "legend": null},
        "strokeWidth": {"condition": {"test": "datum.s === 'cas moyen m=6'", "value": 5}, "value": 2}
      }
    },
    {
      "data": {"name": "conv"},
      "transform": [{"aggregate": [], "groupby": ["s"]}],
      "mark": {"type": "point", "filled": true, "opacity": 1, "strokeWidth": 1.5},
      "encoding": {
        "x": {"datum": 0.10165, "type": "quantitative", "scale": {"domain": [0.02, 0.12], "nice": false, "zero": false}, "axis": null},
        "y": {"field": "s", "type": "nominal", "scale": {"type": "point", "domain": ["m = 4","m = 4,5","m = 5","m = 5,5","cas moyen m=6","m = 6,5","m = 7","m = 7,5","m = 8"], "range": [405, 565], "padding": 0}, "axis": null},
        "shape": {"field": "s", "type": "nominal", "scale": {"domain": ["m = 4","m = 4,5","m = 5","m = 5,5","cas moyen m=6","m = 6,5","m = 7","m = 7,5","m = 8"], "range": ["diamond","square","triangle-up","M-1,-1L1,1M-1,1L1,-1","diamond","M-1,-1L1,1M-1,1L1,-1M0,-1.3L0,1.3","circle","M-1,0L1,0M0,-1L0,1","triangle-up"]}, "legend": null},
        "fill": {"field": "s", "type": "nominal", "scale": {"domain": ["m = 4","m = 4,5","m = 5","m = 5,5","cas moyen m=6","m = 6,5","m = 7","m = 7,5","m = 8"], "range": ["#000080","#FF00FF","#FFFF00","transparent","#FF0000","transparent","#800000","transparent","#FFFFFF"]}, "legend": null},
        "stroke": {"field": "s", "type": "nominal", "scale": {"domain": ["m = 4","m = 4,5","m = 5","m = 5,5","cas moyen m=6","m = 6,5","m = 7","m = 7,5","m = 8"], "range": ["#000080","#FF00FF","#FFFF00","#000000","#FF0000","#800080","#800000","#008080","#0000FF"]}, "legend": null},
        "size": {"condition": [{"test": "datum.s === 'm = 7'", "value": 50}, {"test": "datum.s === 'm = 4,5'", "value": 50}, {"test": "datum.s === 'm = 8' || datum.s === 'm = 5'", "value": 80}], "value": 65}
      }
    },
    {
      "data": {"name": "conv"},
      "transform": [{"aggregate": [], "groupby": ["s"]}],
      "mark": {"type": "text", "align": "left", "baseline": "middle", "font": "DejaVu Sans", "fontSize": 18, "color": "#000000"},
      "encoding": {
        "x": {"datum": 0.10471, "type": "quantitative", "scale": {"domain": [0.02, 0.12], "nice": false, "zero": false}, "axis": null},
        "y": {"field": "s", "type": "nominal", "scale": {"type": "point", "domain": ["m = 4","m = 4,5","m = 5","m = 5,5","cas moyen m=6","m = 6,5","m = 7","m = 7,5","m = 8"], "range": [405, 565], "padding": 0}, "axis": null},
        "text": {"field": "s", "type": "nominal"}
      }
    }
  ],
  "resolve": {
    "scale": {"x": "independent", "y": "independent", "color": "independent", "fill": "independent", "stroke": "independent", "shape": "independent"},
    "axis": {"x": "independent", "y": "independent"}
  }
}
